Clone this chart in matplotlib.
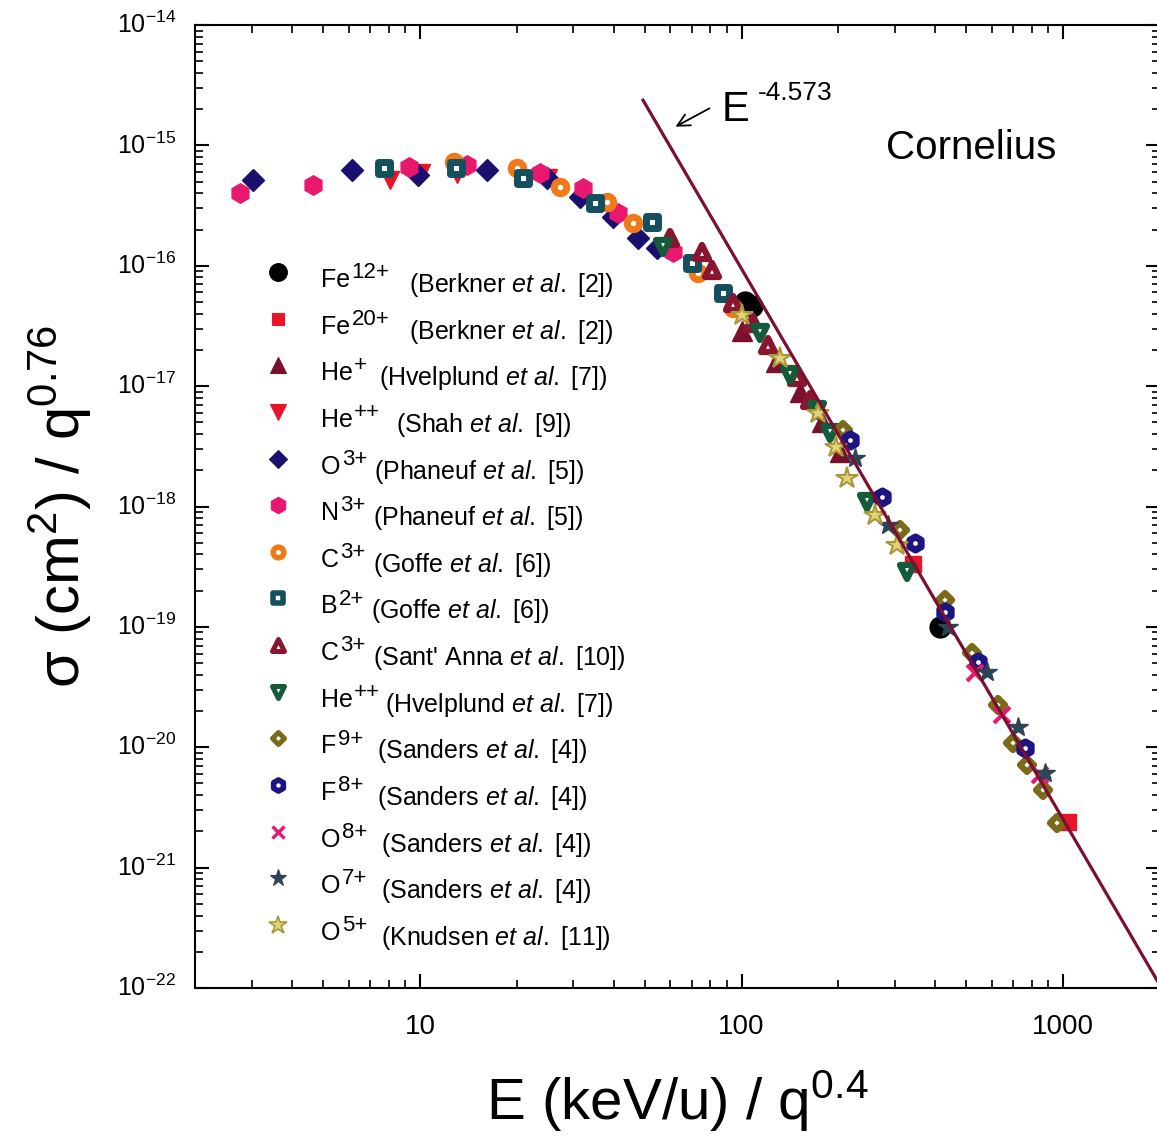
import matplotlib
matplotlib.use("Agg")
import matplotlib.pyplot as plt
from matplotlib.ticker import LogLocator, FixedLocator, FixedFormatter, NullFormatter
from matplotlib.markers import MarkerStyle
import numpy as np

plt.rcParams['font.family'] = ['Liberation Sans', 'DejaVu Sans']
plt.rcParams['mathtext.fontset'] = 'custom'
plt.rcParams['mathtext.rm'] = 'Liberation Sans'
plt.rcParams['mathtext.it'] = 'Liberation Sans:italic'
plt.rcParams['mathtext.bf'] = 'Liberation Sans:bold'

# ---------------- data (E (keV/u)/q^0.4 , sigma/q^0.76 in cm^2) ----------------
fe12_x = [102.5, 107.8, 414]
fe12_y = [5.0e-17, 4.6e-17, 1.0e-19]
fe20_x = [342, 1036]
fe20_y = [3.3e-19, 2.4e-21]
hep_x = [100.4, 128, 152, 178, 202]
hep_y = [2.87e-17, 1.59e-17, 8.95e-18, 5.04e-18, 2.84e-18]
hepp_shah_x = [8.07, 10.1, 13.0, 25.0]
hepp_shah_y = [5.16e-16, 5.9e-16, 5.79e-16, 5.36e-16]
o3_x = [3.03, 6.14, 9.86, 16.2, 24.8, 31.4, 39.8, 47.7, 54.6]
o3_y = [5.16e-16, 6.25e-16, 5.68e-16, 6.25e-16, 5.36e-16, 3.73e-16, 2.54e-16, 1.70e-16, 1.41e-16]
n3_x = [2.75, 4.65, 9.24, 14.0, 23.6, 32.1, 41.3, 61.2]
n3_y = [4.02e-16, 4.73e-16, 6.62e-16, 6.87e-16, 5.9e-16, 4.43e-16, 2.75e-16, 1.29e-16]
c3g_x = [12.8, 20.0, 27.3, 38.2, 46.0, 73.3, 94.1]
c3g_y = [7.28e-16, 6.49e-16, 4.51e-16, 3.36e-16, 2.27e-16, 8.7e-17, 4.46e-17]
b2_x = [7.73, 12.9, 20.9, 35.0, 52.7, 70.2, 87.6]
b2_y = [6.49e-16, 6.49e-16, 5.36e-16, 3.32e-16, 2.31e-16, 1.05e-16, 5.94e-17]
c3s_x = [59.9, 75.4, 80.9, 94.1, 108.6, 120.9, 148.8, 163.3]
c3s_y = [1.70e-16, 1.29e-16, 9.2e-17, 4.91e-17, 3.35e-17, 2.20e-17, 1.19e-17, 7.68e-18]
hepp_hv_x = [57.0, 114.2, 141.5, 171.7, 188.5, 245.6, 327.2]
hepp_hv_y = [1.43e-16, 2.77e-17, 1.24e-17, 6.34e-18, 4.09e-18, 1.09e-18, 2.86e-19]
f9_x = [207, 311, 429.5, 521, 628, 699, 773, 866, 958]
f9_y = [4.33e-18, 6.4e-19, 1.67e-19, 6.08e-20, 2.25e-20, 1.09e-20, 7.1e-21, 4.43e-21, 2.35e-21]
f8_x = [217.5, 273.3, 346.7, 429.5, 543.9, 762]
f8_y = [3.57e-18, 1.20e-18, 4.99e-19, 1.33e-19, 5.1e-20, 9.9e-21]
o8_x = [532, 645.7, 848]
o8_y = [4.15e-20, 1.86e-20, 5.9e-21]
o7_x = [225.4, 285.6, 438.9, 580.2, 724, 879]
o7_y = [2.54e-18, 7.0e-19, 1.0e-19, 4.23e-20, 1.48e-20, 6.1e-21]
o5_x = [100.4, 131.8, 173.0, 196.8, 212.9, 260.0, 304.6]
o5_y = [3.90e-17, 1.71e-17, 5.99e-18, 3.13e-18, 1.73e-18, 8.5e-19, 4.8e-19]

fit_exponent = -4.573
fit_coeff = 1.32e-7
fit_xrange = [49.4, 2000]

ions = ['Fe', 'Fe', 'He', 'He', 'O', 'N', 'C', 'B', 'C', 'He', 'F', 'F', 'O', 'O', 'O']
charges = ['12+', '20+', '+', '++', '3+', '3+', '3+', '2+', '3+', '++', '9+', '8+', '8+', '7+', '5+']
refs = ['Berkner', 'Berkner', 'Hvelplund', 'Shah', 'Phaneuf', 'Phaneuf', 'Goffe', 'Goffe',
        "Sant' Anna", 'Hvelplund', 'Sanders', 'Sanders', 'Sanders', 'Sanders', 'Knudsen']
ref_nums = ['2', '2', '7', '9', '5', '5', '6', '6', '10', '7', '4', '4', '4', '4', '11']

series_x = [fe12_x, fe20_x, hep_x, hepp_shah_x, o3_x, n3_x, c3g_x, b2_x, c3s_x, hepp_hv_x,
            f9_x, f8_x, o8_x, o7_x, o5_x]
series_y = [fe12_y, fe20_y, hep_y, hepp_shah_y, o3_y, n3_y, c3g_y, b2_y, c3s_y, hepp_hv_y,
            f9_y, f8_y, o8_y, o7_y, o5_y]

# marker, size, face, edge, edge width
styles = [
    ('o', 15, 'black', 'black', 1.0),
    ('s', 11, '#e8142a', '#e8142a', 1.0),
    ('^', 14, '#7a0f2e', '#7a0f2e', 1.0),
    ('v', 13, '#e8142a', '#e8142a', 1.0),
    ('D', 11, '#1a1070', '#1a1070', 1.0),
    ('h', 14, '#e8186e', '#e8186e', 1.0),
    ('o', 9, 'white', '#f07a1a', 5.0),
    ('s', 8.5, 'white', '#134f5c', 5.0),
    ('^', 10.5, 'white', '#8a1530', 4.5),
    ('v', 10, 'white', '#155a3a', 4.5),
    ('D', 7.5, 'white', '#7a6a1a', 4.5),
    ('h', 9.5, 'white', '#1c1480', 5.0),
    ('x', 11, '#e8186e', '#e8186e', 3.0),
    ('*', 15, '#2d4455', '#2d4455', 1.0),
    ('*', 16, '#e6d27a', '#a89838', 1.5),
]
# legend gap (pixels) between charge and reference
gaps_px = [20, 20, 12, 16, 7, 7, 7, 7, 7, 5, 14, 14, 14, 14, 14]

W, H = 1157, 1138
fig = plt.figure(figsize=(W / 100, H / 100), dpi=100)
ax_l, ax_r, ax_b, ax_t = 195.3, 1159.8, 988, 25
ax = fig.add_axes([ax_l / W, 1 - ax_b / H, (ax_r - ax_l) / W, (ax_b - ax_t) / H])
ax.set_xscale('log')
ax.set_yscale('log')
ax.set_xlim(2, 2000)
ax.set_ylim(1e-22, 1e-14)


def mstyle(m, fc):
    if fc == 'white':
        return MarkerStyle(m, joinstyle='round')
    return MarkerStyle(m)


for xs, ys, st in zip(series_x, series_y, styles):
    m, ms, fc, ec, mew = st
    ax.plot(xs, ys, linestyle='none', marker=mstyle(m, fc), markersize=ms, markerfacecolor=fc,
            markeredgecolor=ec, markeredgewidth=mew, zorder=3)

xf = np.logspace(np.log10(fit_xrange[0]), np.log10(fit_xrange[1]), 100)
ax.plot(xf, fit_coeff * xf ** fit_exponent, color='#7a1030', lw=2.3, zorder=5)

# ticks
ax.xaxis.set_major_locator(FixedLocator([10, 100, 1000]))
ax.xaxis.set_major_formatter(FixedFormatter(['10', '100', '1000']))
ax.xaxis.set_minor_locator(LogLocator(base=10, subs=np.arange(2, 10), numticks=100))
ax.xaxis.set_minor_formatter(NullFormatter())
ax.yaxis.set_major_locator(LogLocator(base=10, numticks=100))
ax.yaxis.set_minor_locator(LogLocator(base=10, subs=np.arange(2, 10), numticks=100))
ax.yaxis.set_minor_formatter(NullFormatter())
ax.tick_params(which='both', direction='in', top=True, right=True)
ax.tick_params(which='major', length=10, width=1.5)
ax.tick_params(which='minor', length=6, width=1.2)
ax.tick_params(axis='x', labelsize=20, pad=19)
ax.tick_params(axis='y', labelsize=18, pad=14)
for lbl in ax.get_yticklabels():
    lbl.set_verticalalignment('center')
for s in ax.spines.values():
    s.set_linewidth(1.5)

ax.set_xlabel(r'E (keV/u) / q$^{0.4}$', fontsize=42, labelpad=20)
ax.set_ylabel(r'σ (cm$^2$) / q$^{0.76}$', fontsize=43, labelpad=16)

# annotations
def fx(px):
    return (px - ax_l) / (ax_r - ax_l)

def fy(py):
    return (ax_b - py) / (ax_b - ax_t)

ax.text(fx(971), fy(148), 'Cornelius', fontsize=29, ha='center', va='center', transform=ax.transAxes)
ax.text(fx(722), fy(110), 'E', fontsize=30, ha='left', va='center', transform=ax.transAxes)
ax.text(fx(758), fy(93), '-4.573', fontsize=19, ha='left', va='center', transform=ax.transAxes)
ax.annotate('', xy=(fx(673), fy(128)), xytext=(fx(712), fy(107)),
            xycoords='axes fraction', textcoords='axes fraction',
            arrowprops=dict(arrowstyle='->', lw=1.3, color='black', mutation_scale=22))

# legend (manual)
row0, drow = 272, 46.64
for i, st in enumerate(styles):
    m, ms, fc, ec, mew = st
    py = row0 + drow * i
    ax.plot([fx(278)], [fy(py)], transform=ax.transAxes, linestyle='none', marker=mstyle(m, fc),
            markersize=ms * 0.85, markerfacecolor=fc, markeredgecolor=ec,
            markeredgewidth=mew * 0.8, clip_on=False, zorder=6)
    t1 = ax.text(fx(321), fy(py + 15), ions[i], fontsize=18, ha='left', va='baseline',
                 transform=ax.transAxes)
    t2 = ax.annotate(charges[i], xy=(1, 0), xycoords=t1, xytext=(1, 10),
                     textcoords='offset points', fontsize=16, ha='left', va='baseline')
    ax.annotate('(' + refs[i] + r' $\mathit{et\ al.}$ [' + ref_nums[i] + '])',
                xy=(1, 0), xycoords=(t2, t1), xytext=(gaps_px[i] / 1.389, 0),
                textcoords='offset points', fontsize=18, ha='left', va='baseline')

fig.savefig('out.png', dpi=100)
